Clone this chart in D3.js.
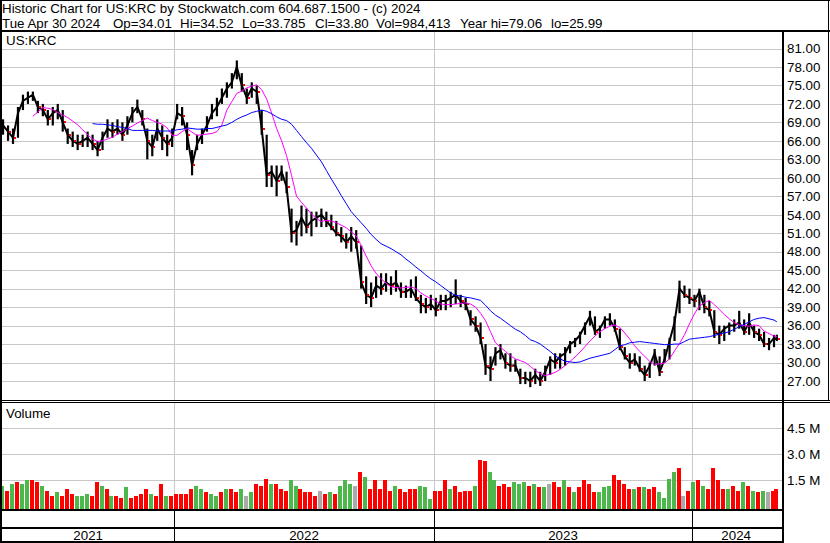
<!DOCTYPE html>
<html><head><meta charset="utf-8">
<script src="https://cdn.jsdelivr.net/npm/d3@7"></script>
<style>
body{margin:0;background:#fff}
svg{display:block}
text{font-family:"Liberation Sans",Arial,sans-serif;font-size:13.33px;fill:#000}
</style>
</head><body>
<svg id="c" width="830" height="543"></svg>
<script>
// ---------- data (weekly) ----------
const symbol = "US:KRC";
const headerLine1 = "Historic Chart for US:KRC by Stockwatch.com 604.687.1500 - (c) 2024";
const headerTokens = ["Tue Apr 30 2024","Op=34.01","Hi=34.52","Lo=33.785","Cl=33.80","Vol=984,413","Year hi=79.06","lo=25.99"];
const yearLabels = ["2021","2022","2023","2024"];
const yearStarts = ["2022-01-03","2023-01-03","2024-01-02"];
const priceTicks = [27,30,33,36,39,42,45,48,51,54,57,60,63,66,69,72,75,78,81];
const volumeTicks = [1.5,3.0,4.5];

const weekHigh = [
69.5,68.5,68,71.5,73.5,74,74,72.5,72,71,
71.5,72,71,68,67.5,67,67,67.5,67,66,
67.5,69.5,69,69.5,69,70,71.5,72.7,71,68,
67,69.5,68.5,67,68,72,71.5,69,64.5,67,
68,70,72,73,74.5,75.5,77,79.06,77,74.5,
75.5,75,71,67,62,62,62,61,55,53,
55.5,55,54.5,54.5,55,54.5,54,53,52,51,
52,51.5,49,44,43,44,44.5,44.5,44,45,
43,42.5,43.5,44,41,40.5,41,40.5,41,41,
41.5,43.5,41,40.5,38.5,37.5,36.5,33,31,32.5,
33,31.5,31.5,30.5,29,28.5,28.5,29,28.5,29.5,
31,31.5,31.5,32.5,33.5,34,35,36.5,38.4,37.5,
36,37.5,38,37,35.5,32.5,31.5,31.5,31,29.5,
30,32.2,31,32.2,34,37.5,43.3,42.5,42,41,
42,41,40,38.5,36,36,36.5,37,38.4,37,
38,36,35.5,35,34,34.5,34.52];
const weekLow = [
67,66,65.5,66.5,71,72,72.5,70.5,70,68.5,
68.5,69.5,67.5,65.5,65,64.5,65,65,64.5,63.5,
64.5,66.5,66.5,67,66,67,69,70.5,68.5,63,
63.5,66,64.5,63.5,65,69.5,68.5,64.5,60.4,64.5,
65.5,67.5,69.5,70,72,73,74.5,76,74,72,
73,72,67,58.5,58.5,57,59.5,57.5,49.5,49,
50.5,51,50.5,52,52,52,51.5,50.5,49.5,48.5,
48,48.5,42,39.5,39,40.5,41,41.5,41,41.5,
40.5,40.5,40.5,40,38,38,38.5,37.5,38.5,38.5,
39,39.5,39,38.5,36,35,33,28,27,29.5,
30.5,29,28.5,28.5,26.5,26.5,26,26.5,26.2,27,
28,29,29,29.5,31.5,32.5,33,34.5,36,34.5,
34,35.5,36,35,32,30.5,29,29.5,28.5,27,
27.5,29.5,27.8,30,30.5,33.5,38,40.5,39.5,39,
38.5,38,37.5,34,33,33.5,34.5,35,35.5,34.5,
34.5,34,33.5,32.5,32,32.5,33.5];
const weekClose = [
68.5,67.5,66.5,70.5,72.5,73,73.5,71.5,71,69.5,
70.5,71,69,67,66,65.5,66,66.5,65.5,64.5,
66.5,68,67.5,68,67,68.5,70.5,71.5,69.5,66,
65,68,66.5,65.5,66.5,70.5,70,67,62,65.5,
67,68.5,70.5,71.5,73,74.5,75.5,78,75,73,
74.5,74,68,60.5,61,59.5,61,58.5,51,51.5,
53.5,52,53,53.5,54,53,52,51,50.5,49.5,
50.5,49.5,43,41,40.5,42.5,42,43,42.5,43,
41.5,41.5,42,40.5,39.5,39,39.5,38.5,40,40,
40.5,41,40,39.5,37,36,34,29.5,29,31.5,
32,30,29.5,29.5,27.5,27.5,27,28,27,28.5,
30.5,30,31,31.5,33,33.5,34.5,36,37.5,35,
35.5,37,37,35.5,32.5,31,30,30.5,29,28,
29.5,31.5,28.5,30.5,33.5,36.5,42,41,40.5,40,
41.5,39,38.5,35,34.5,35.5,36,36,36.5,35,
36.5,35,34.5,33,33,34,33.8];
const maFast = [
null,null,null,null,null,null,70.0,70.7,71.4,71.3,
71.1,70.6,70.2,69.8,69.2,68.6,67.8,67.0,66.3,65.9,
66.0,66.3,66.6,67.1,67.5,68.0,68.4,68.9,69.3,69.7,
69.3,69.0,68.7,68.1,66.9,66.9,67.5,68.0,67.4,66.9,
67.0,67.1,67.2,67.5,68.6,71.0,72.4,73.7,74.1,74.6,
74.9,75.1,74.3,72.8,70.5,68.0,66.0,63.6,60.4,57.0,
56.0,55.1,54.1,53.4,52.9,53.1,53.0,52.7,52.3,51.9,
51.2,50.6,49.0,47.3,45.7,44.5,43.6,42.9,42.3,42.2,
42.1,42.2,42.3,42.0,41.3,40.8,40.4,40.0,39.5,39.4,
39.4,39.5,39.6,39.7,39.5,39.0,38.0,36.8,35.0,33.2,
32.5,31.8,31.1,30.6,30.3,30.0,29.4,28.7,28.2,27.9,
28.1,28.4,28.9,29.5,30.2,30.9,31.7,32.6,33.5,34.3,
35.0,35.5,35.9,36.1,35.7,34.8,33.8,32.7,31.8,31.0,
30.2,29.7,29.8,29.9,30.6,31.9,33.1,34.5,36.3,37.9,
39.2,39.7,40.1,39.4,38.6,37.8,37.1,36.5,36.1,36.0,
35.9,36.1,36.0,35.1,34.7,34.3,34.2];
const maSlow = [
null,null,null,null,null,null,null,null,null,null,
null,null,null,null,null,null,null,null,68.8,68.7,
68.7,68.6,68.5,68.3,68.2,68.0,67.7,67.7,67.7,67.7,
67.7,67.6,67.6,67.6,67.6,67.8,67.9,68.1,68.0,67.9,
67.9,68.0,68.0,68.2,68.4,68.6,69.0,69.5,69.9,70.2,
70.6,70.8,71.0,70.8,70.4,69.9,69.5,69.3,68.7,67.7,
66.7,65.7,64.8,63.7,62.6,61.2,59.8,58.5,57.1,55.8,
54.5,53.6,52.7,51.8,50.8,50.0,49.3,48.9,48.5,48.0,
47.5,46.8,46.2,45.5,44.9,44.2,43.6,43.1,42.5,41.9,
41.3,40.9,40.8,40.6,40.5,40.3,40.1,39.3,38.4,37.7,
37.2,36.6,36.0,35.4,35.0,34.4,33.7,33.4,33.0,32.4,
31.8,31.1,30.6,30.2,30.1,30.0,30.1,30.4,30.7,30.9,
31.1,31.3,31.5,32.1,32.7,32.9,33.2,33.3,33.4,33.3,
33.2,33.1,33.0,32.9,32.9,33.0,33.0,33.4,33.8,33.9,
34.0,34.1,34.2,34.4,34.6,34.8,35.0,35.4,35.8,36.2,
36.6,37.0,37.2,37.3,37.1,36.9,36.6];
// volume in millions (typical daily level of each week)
const weekVolume = [
1.2,0.9,1.3,1.4,1.3,1.5,1.5,1.4,1.2,0.9,
0.6,0.8,0.6,1.0,0.7,0.6,0.6,0.7,0.6,1.4,
1.2,1.0,0.6,0.6,0.5,1.1,0.5,0.6,0.7,1.0,
0.7,0.6,1.3,0.6,0.6,0.7,0.7,0.7,1.0,1.2,
1.0,0.8,0.7,0.6,0.8,1.0,1.0,0.8,1.0,0.6,
0.8,1.3,1.2,1.6,1.3,1.3,1.0,0.9,1.5,1.2,
1.0,0.8,0.8,0.6,0.9,0.7,0.8,0.7,1.2,1.5,
1.3,1.2,2.0,1.7,1.0,1.5,1.0,1.5,0.9,1.2,
1.0,0.8,1.0,1.0,1.2,1.1,0.4,0.9,0.9,1.5,
1.0,1.2,0.8,0.9,0.9,1.2,2.7,2.6,2.0,1.5,
1.2,1.3,1.1,1.4,1.3,1.4,1.2,1.3,1.1,1.1,
1.3,1.4,1.1,1.5,1.1,0.8,1.1,1.5,1.3,0.8,
0.8,1.1,1.2,1.8,1.5,1.3,1.0,1.0,1.1,1.1,
1.0,1.1,0.8,0.5,1.6,2.0,2.2,0.6,0.9,1.4,
1.5,1.2,1.0,2.2,1.5,1.0,1.0,1.2,0.9,1.4,
1.2,0.9,0.8,0.9,0.8,0.9,0.98];
// 1 = up (green), -1 = down (red), 0 = unchanged (grey)
const weekDirection = [
1,-1,1,-1,1,1,-1,-1,1,-1,
-1,1,-1,-1,-1,1,1,1,-1,-1,
1,-1,1,-1,-1,1,-1,-1,-1,-1,
1,-1,-1,1,-1,-1,-1,-1,-1,1,
1,-1,1,1,-1,1,-1,-1,1,0,
1,-1,-1,-1,1,-1,-1,-1,1,1,
-1,-1,-1,-1,0,-1,1,-1,1,1,
1,0,-1,1,-1,-1,-1,-1,-1,1,
-1,-1,-1,-1,1,1,1,-1,-1,-1,
1,-1,-1,-1,-1,1,-1,-1,1,1,
-1,-1,-1,1,1,1,-1,1,-1,1,
0,-1,-1,1,-1,1,-1,-1,-1,-1,
1,1,1,-1,-1,-1,-1,1,-1,1,
-1,-1,1,1,1,1,-1,0,-1,1,
-1,1,-1,-1,-1,-1,1,-1,-1,1,
-1,1,-1,1,0,-1,-1];

// week-ending dates (Fridays) plus the last trading day
const weekDates = d3.timeFriday.range(new Date(2021,4,7), new Date(2024,3,27)).concat([new Date(2024,3,30)]);
const parse = d3.timeParse("%Y-%m-%d");

const data = weekDates.map((d,i)=>({
  date:d, hi:weekHigh[i], lo:weekLow[i], close:weekClose[i],
  fast:maFast[i], slow:maSlow[i], vol:weekVolume[i], dir:weekDirection[i]
}));

// ---------- layout ----------
const W=830, H=543;
const L=2, R=782;
const pTop=32, pBot=400, vTop=403, vBot=509;
const gridCol="#c8c8c8";

const svg=d3.select("#c");
const x=d3.scaleTime().domain([parse("2022-01-03"),parse("2024-01-02")]).range([174.3,692.3]);
const yP=d3.scaleLinear().domain([27,81]).range([381,48.5]);
const yV=d3.scaleLinear().domain([0,4.5]).range([506.3,428.3]);

svg.append("rect").attr("width",W).attr("height",H).attr("fill","#fff");

const defs=svg.append("defs");
defs.append("clipPath").attr("id","pclip").append("rect").attr("x",L).attr("y",pTop).attr("width",R-L).attr("height",pBot-pTop);
defs.append("clipPath").attr("id","vclip").append("rect").attr("x",L).attr("y",vTop).attr("width",R-L).attr("height",vBot-vTop);

// header
svg.append("text").attr("x",2).attr("y",13).text(headerLine1);
const tokX=[2,113,180,242,315,376,460,551];
headerTokens.forEach((t,i)=>svg.append("text").attr("x",tokX[i]).attr("y",27.5).text(t));

// price grid (axis)
const pg=svg.append("g").attr("transform",`translate(${R},0)`)
  .call(d3.axisLeft(yP).tickValues(priceTicks).tickSize(R-L).tickFormat(""));
pg.select(".domain").remove();
pg.selectAll("line").attr("stroke",gridCol).attr("shape-rendering","crispEdges");

// volume grid
const vg=svg.append("g").attr("transform",`translate(${R},0)`)
  .call(d3.axisLeft(yV).tickValues(volumeTicks).tickSize(R-L).tickFormat(""));
vg.select(".domain").remove();
vg.selectAll("line").attr("stroke",gridCol).attr("shape-rendering","crispEdges");

// vertical year grid
const ys=yearStarts.map(parse);
ys.forEach(d=>{
  const xx=Math.round(x(d))+0.5;
  svg.append("line").attr("x1",xx).attr("x2",xx).attr("y1",pTop).attr("y2",pBot).attr("stroke",gridCol);
  svg.append("line").attr("x1",xx).attr("x2",xx).attr("y1",vTop).attr("y2",vBot).attr("stroke",gridCol);
});

// price axis labels
const pa=svg.append("g").attr("transform",`translate(${R+3},0)`)
  .call(d3.axisRight(yP).tickValues(priceTicks).tickSize(0).tickPadding(2).tickFormat(d3.format(".2f")));
pa.select(".domain").remove();
pa.selectAll("text").attr("fill","#000").style("font-size","13.33px").style("font-family","'Liberation Sans',Arial,sans-serif");

const va=svg.append("g").attr("transform",`translate(${R+3},0)`)
  .call(d3.axisRight(yV).tickValues(volumeTicks).tickSize(0).tickPadding(2).tickFormat(d=>d3.format(".1f")(d)+" M"));
va.select(".domain").remove();
va.selectAll("text").attr("fill","#000").style("font-size","13.33px").style("font-family","'Liberation Sans',Arial,sans-serif");

// labels
svg.append("text").attr("x",6).attr("y",45).text(symbol);
svg.append("text").attr("x",6).attr("y",417.5).text("Volume");

// price marks: hi-lo bars + close path
const gp=svg.append("g").attr("clip-path","url(#pclip)");
gp.append("path").datum(data)
  .attr("d",d3.line().x(d=>x(d.date)).y(d=>yP(d.close)))
  .attr("fill","none").attr("stroke","#000").attr("stroke-width",2);
gp.selectAll("line.bar").data(data).join("line").attr("class","bar")
  .attr("x1",d=>x(d.date)).attr("x2",d=>x(d.date))
  .attr("y1",d=>yP(d.hi)).attr("y2",d=>yP(d.lo))
  .attr("stroke","#000").attr("stroke-width",2.2);
gp.selectAll("rect.cl").data(data.filter((d,i)=>i>0 && d.close<data[i-1].close)).join("rect").attr("class","cl")
  .attr("x",d=>Math.round(x(d.date))+1).attr("y",d=>Math.round(yP(d.close))-1)
  .attr("width",2).attr("height",2).attr("fill","#ff0000");

gp.append("path").datum(data)
  .attr("d",d3.line().defined(d=>d.fast!=null).x(d=>x(d.date)).y(d=>yP(d.fast)))
  .attr("fill","none").attr("stroke","#ff00ff").attr("stroke-width",1);
gp.append("path").datum(data)
  .attr("d",d3.line().defined(d=>d.slow!=null).x(d=>x(d.date)).y(d=>yP(d.slow)))
  .attr("fill","none").attr("stroke","#0000ff").attr("stroke-width",1);

// volume bars
const colorOf=d=>d.dir>0?"#4cb84c":(d.dir<0?"#ff0000":"#aaaaaa");
svg.append("g").attr("clip-path","url(#vclip)")
  .selectAll("rect").data(data).join("rect")
  .attr("x",d=>Math.round(x(d.date))-3).attr("width",4)
  .attr("y",d=>Math.round(yV(d.vol))).attr("height",d=>vBot-Math.round(yV(d.vol)))
  .attr("fill",colorOf).attr("shape-rendering","crispEdges");

// frame lines
const ln=(x1,y1,x2,y2,w)=>svg.append("line").attr("x1",x1).attr("y1",y1).attr("x2",x2).attr("y2",y2)
  .attr("stroke","#000").attr("stroke-width",w||1).attr("shape-rendering","crispEdges");
ln(0,0.5,W,0.5);                 // top
ln(1,0,1,H,2);                  // left
ln(828.5,0,828.5,pBot,1);       // right
ln(0,31,W,31,2);                // header bottom
ln(R+1,32,R+1,H,2);             // axis separator
ln(0,400.5,W,400.5,1);
ln(0,402.5,W,402.5,1);
ln(0,510,R,510,2);              // volume bottom
ln(0,528,R,528,2);              // year row top
ln(0,542,R,542,2);              // bottom
ys.forEach(d=>{const xx=Math.round(x(d))+0.5; ln(xx,510,xx,H,1);});

// year labels centered between boundaries
const bounds=[L].concat(ys.map(d=>x(d))).concat([780]);
yearLabels.forEach((t,i)=>svg.append("text").attr("x",(bounds[i]+bounds[i+1])/2).attr("y",540)
  .attr("text-anchor","middle").text(t));
</script>
</body></html>
